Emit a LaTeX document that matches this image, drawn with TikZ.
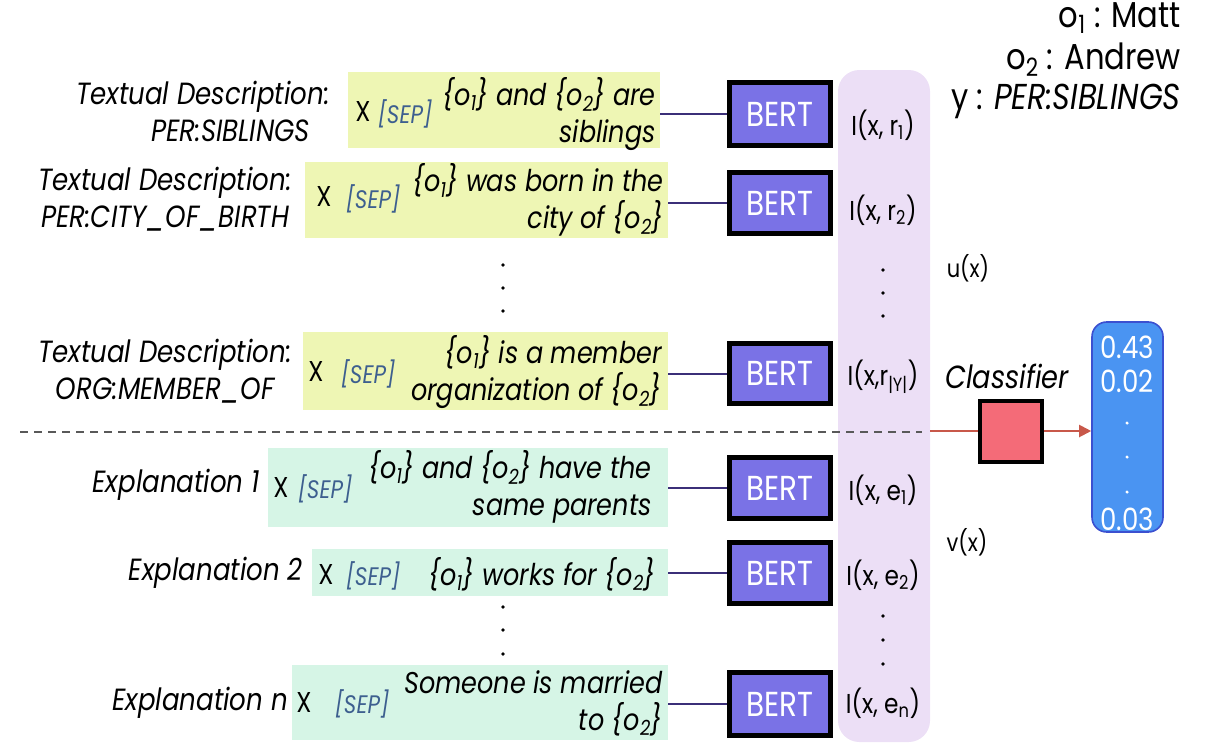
\documentclass[tikz,border=0pt]{standalone}
\usepackage{fontspec}
\setmainfont{Poppins}[FakeStretch=0.85]
\usetikzlibrary{fit,calc,arrows.meta}
\definecolor{ylw}{HTML}{EEF6B4}
\definecolor{grn}{HTML}{D6F5E6}
\definecolor{bert}{HTML}{7A72E6}
\definecolor{lav}{HTML}{ECDFF6}
\definecolor{pink}{HTML}{F46B78}
\definecolor{blu}{HTML}{4A94F2}
\definecolor{bluedge}{HTML}{3B50D0}
\definecolor{arr}{HTML}{C8584A}
\definecolor{conn}{HTML}{3B2F78}
\definecolor{sepc}{HTML}{3D5F8F}
\newcommand{\osub}[1]{\textsubscript{#1}}
\begin{document}
\begin{tikzpicture}[x=0.75pt,y=-0.75pt,
  lab/.style={font=\fontsize{23}{27.75}\selectfont\itshape, align=center, inner sep=0, anchor=east},
  txt/.style={font=\fontsize{22.5}{27.75}\selectfont\itshape, align=right, inner sep=0, anchor=east},
  xx/.style={font=\fontsize{21.5}{26}\selectfont, inner sep=0},
  sep/.style={font=\fontsize{19}{22}\selectfont\itshape, text=sepc, inner sep=0},
  ybox/.style={fill=ylw, inner sep=0, draw=none},
  gbox/.style={fill=grn, inner sep=0, draw=none},
  bertbox/.style={fill=bert, draw=black, line width=3.75pt, inner sep=0},
  berttxt/.style={text=white, font=\fontsize{26}{30}\selectfont, inner sep=0},
  ilab/.style={font=\fontsize{20.5}{24}\selectfont, inner sep=0},
  toptxt/.style={font=\fontsize{27}{30}\selectfont, anchor=east, inner sep=0},
  numtxt/.style={text=white, font=\fontsize{23}{26}\selectfont, inner sep=0},
  cn/.style={draw=conn, line width=1.5pt},
]
\useasboundingbox (0,0) rectangle (1209,743);

% column
\node[fit={(838,70)(930,742)}, fill=lav, rounded corners=16pt, inner sep=0] (col) {};

% top right
\node[toptxt] (o1) at (1181,18) {o\osub{1} : Matt};
\node[toptxt] (o2) at (1181,60) {o\osub{2} : Andrew};
\node[toptxt] (yy) at (1181,101) {y : \textit{PER:SIBLINGS}};

% row 1
\node[ybox, fit={(348,72)(660,148)}] (y1) {};
\node[lab] (l1) at (330,111) {Textual Description:\\\hspace*{1.8em}PER:SIBLINGS};
\node[xx] (x1) at (363,112) {X};
\node[sep] (s1) at (405,114) {[SEP]};
\node[txt] (t1) at (656,114) {\{o\osub{1}\} and \{o\osub{2}\} are\\siblings};
\node[bertbox, fit={(729.5,82.5)(830.5,145.5)}] (b1) {};
\node[berttxt] at (b1.center) {BERT};
\node[ilab] (i1) at (883,125) {I(x, r\osub{1})};

% row 2
\node[ybox, fit={(305,162)(668,238)}] (y2) {};
\node[lab] (l2) at (292,199) {Textual Description:\\PER:CITY\_OF\_BIRTH};
\node[xx] (x2) at (324,197) {X};
\node[sep] (s2) at (373,199) {[SEP]};
\node[txt] (t2) at (664,200) {\{o\osub{1}\} was born in the\\city of \{o\osub{2}\}};
\node[bertbox, fit={(729.5,172.5)(830.5,233.5)}] (b2) {};
\node[berttxt] at (b2.center) {BERT};
\node[ilab] (i2) at (883,210) {I(x, r\osub{2})};

% dots
\foreach \yy in {265,288,311} \fill (503,\yy) circle (1.4pt);
\foreach \yy in {270,293,316} \fill (883,\yy) circle (1.4pt);
\node[ilab, font=\fontsize{18.5}{22}\selectfont] (ux) at (968,268) {u(x)};

% row 3
\node[ybox, fit={(303,332)(668,410)}] (y3) {};
\node[lab] (l3) at (292,371) {Textual Description:\\ORG:MEMBER\_OF};
\node[xx] (x3) at (316,372) {X};
\node[sep] (s3) at (368,374) {[SEP]};
\node[txt] (t3) at (662,372) {\{o\osub{1}\} is a member\\organization of \{o\osub{2}\}};
\node[bertbox, fit={(729.5,343.5)(830.5,403.5)}] (b3) {};
\node[berttxt] at (b3.center) {BERT};
\node[ilab] (i3) at (883,377) {I(x,r\osub{|Y|})};

% dashed separator
\coordinate (dl) at (20,432);
\coordinate (dr) at (922,432);
\draw[draw=black!65, line width=2.2pt, dash pattern=on 6pt off 4.5pt] (dl) -- (dr);

% explanation 1
\node[gbox, fit={(268,448)(668,527)}] (e1) {};
\node[lab] (l4) at (260,485) {Explanation 1};
\node[xx] (x4) at (281,487) {X};
\node[sep] (s4) at (325,489) {[SEP]};
\node[txt] (t4) at (652,487) {\{o\osub{1}\} and \{o\osub{2}\} have the\\same parents};
\node[bertbox, fit={(729.5,457.5)(830.5,518.5)}] (b4) {};
\node[berttxt] at (b4.center) {BERT};
\node[ilab] (i4) at (883,490) {I(x, e\osub{1})};
\node[ilab, font=\fontsize{18.5}{22}\selectfont] (vx) at (967,542) {v(x)};

% explanation 2
\node[gbox, fit={(312,549)(668,596)}] (e2) {};
\node[lab] (l5) at (303,573) {Explanation 2};
\node[xx] (x5) at (326,574) {X};
\node[sep] (s5) at (373,576) {[SEP]};
\node[txt] (t5) at (656,574) {\{o\osub{1}\} works for \{o\osub{2}\}};
\node[bertbox, fit={(729.5,542.5)(830.5,603.5)}] (b5) {};
\node[berttxt] at (b5.center) {BERT};
\node[ilab] (i5) at (883,575) {I(x, e\osub{2})};

\foreach \yy in {607,630,654} \fill (503,\yy) circle (1.4pt);
\foreach \yy in {616,640,664} \fill (883,\yy) circle (1.4pt);

% explanation n
\node[gbox, fit={(292,665)(668,740)}] (e3) {};
\node[lab] (l6) at (288,703) {Explanation n};
\node[xx] (x6) at (304,702) {X};
\node[sep] (s6) at (362,704) {[SEP]};
\node[txt] (t6) at (663,703) {Someone is married\\to \{o\osub{2}\}};
\node[bertbox, fit={(729.5,672.5)(830.5,735.5)}] (b6) {};
\node[berttxt] at (b6.center) {BERT};
\node[ilab] (i6) at (883,703) {I(x, e\osub{n})};

% connectors
\draw[cn] (b1.west -| y1.east) -- (b1.west);
\draw[cn] (b2.west -| y2.east) -- (b2.west);
\draw[cn] (b3.west -| y3.east) -- (b3.west);
\draw[cn] (b4.west -| e1.east) -- (b4.west);
\draw[cn] (b5.west -| e2.east) -- (b5.west);
\draw[cn] (b6.west -| e3.east) -- (b6.west);

% classifier
\node[font=\fontsize{24}{28}\selectfont\itshape, inner sep=0] (clab) at (1007,376) {Classifier};
\node[fit={(979.5,400.5)(1041.5,461.5)}, fill=pink, draw=black, line width=3pt, inner sep=0] (cls) {};
\node[fit={(1092,322)(1163,532)}, fill=blu, draw=bluedge, line width=1.2pt, rounded corners=11pt, inner sep=0] (out) {};
\draw[arr, line width=1.5pt] (cls.west -| col.east) -- (cls.west);
\draw[arr, line width=1.5pt, -{Triangle[length=9pt,width=9pt]}] (cls.east) -- (cls.east -| out.west);

\node[numtxt] (n1) at (1127,347) {0.43};
\node[numtxt] (n2) at (1127,381) {0.02};
\foreach \yy in {423,457,492} \fill[white] (1127,\yy) circle (1.3pt);
\node[numtxt] (n3) at (1127,519) {0.03};
\end{tikzpicture}
\end{document}
